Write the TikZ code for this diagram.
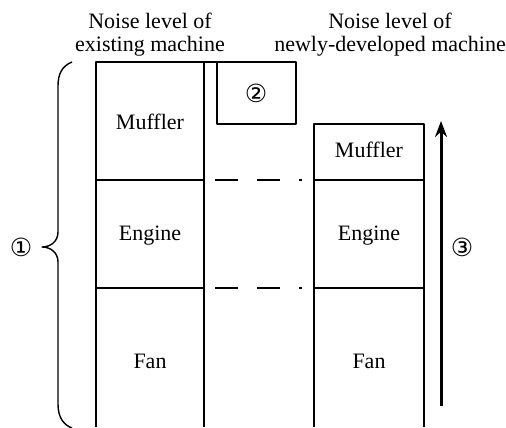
\documentclass[tikz,border=0pt]{standalone}
\usepackage{fontspec}
\setmainfont{Liberation Serif}
\newfontfamily\txtfont{Liberation Serif}
\newfontfamily\circfont{DejaVu Sans}
\usetikzlibrary{arrows.meta}

\begin{document}
\begin{tikzpicture}[x=0.5pt,y=-0.5pt,>={Stealth[length=8pt,width=6pt]},line join=round,line width=0.7pt,
    font=\txtfont\fontsize{11}{11.5}\selectfont,
    circled/.style={font=\circfont\fontsize{12.5}{12.5}\selectfont}]
  \useasboundingbox (0,0) rectangle (506,427);
  \coordinate (A) at (96,62);
  \coordinate (B) at (204,62);
  \coordinate (C) at (217,62);
  \coordinate (D) at (296,62);
  \coordinate (E) at (217,124);
  \coordinate (F) at (296,124);
  \coordinate (G) at (314,124);
  \coordinate (H) at (424,124);

  \draw (96,427)--(A)--(D)--(F)--(E)--(C);
  \draw (B)--(204,427);
  \draw (96,180)--(204,180);
  \draw (96,288)--(204,288);

  \draw (314,427)--(G)--(H)--(424,427);
  \draw (314,180)--(424,180);
  \draw (314,288)--(424,288);

  \draw[dash pattern=on 11.5pt off 9.5pt] (215,180)--(302,180);
  \draw[dash pattern=on 11.5pt off 9.5pt] (215,288)--(302,288);

  \draw[->,line width=1.5pt] (441,406)--(441,121);

  \draw (72,62) .. controls (62,66) and (58,74) .. (58,86)
    -- (58,232) .. controls (58,242) and (50,247) .. (42,247)
    .. controls (50,247) and (58,252) .. (58,262)
    -- (58,404) .. controls (58,418) and (64,425) .. (72,428);

  \node[align=center] (old) at (150,35) {Noise level of\\existing machine};
  \node[align=center] (new) at (390,35) {Noise level of\\newly-developed machine};
  \node (m1) at (150,122) {Muffler};
  \node (e1) at (150,236) {Engine};
  \node (f1) at (150,361) {Fan};
  \node (m2) at (369,150) {Muffler};
  \node (e2) at (369,236) {Engine};
  \node (f2) at (369,361) {Fan};
  \node[circled] (n1) at (21,247) {①};
  \node[circled] (n2) at (256,93) {②};
  \node[circled] (n3) at (462,247) {③};
\end{tikzpicture}
\end{document}
